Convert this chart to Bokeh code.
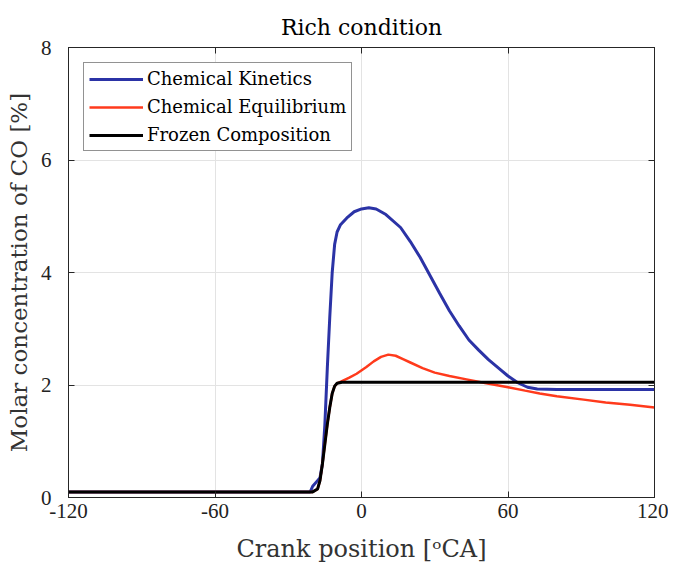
from bokeh.plotting import figure
from bokeh.models import LinearAxis, FixedTicker, Range1d, Legend, LegendItem
from bokeh.embed import file_html
from bokeh.resources import INLINE

title_text = "Rich condition"
x_label = "Crank position [\u1d52CA]"
y_label = "Molar concentration of CO [%]"
x_ticks = [-120, -60, 0, 60, 120]
x_tick_labels = ["-120", "-60", "0", "60", "120"]
y_ticks = [0, 2, 4, 6, 8]
y_tick_labels = ["0", "2", "4", "6", "8"]

kin_x = [-120, -21, -20, -18, -17, -16, -15, -14, -13, -12, -11, -10, -8.6, -6, -3, 0, 3, 6, 10, 16, 20, 24, 28, 32, 36, 40, 44, 48, 52, 57, 60, 64, 68, 72, 80, 120]
kin_y = [0.1, 0.1, 0.2, 0.3, 0.35, 0.6, 1.3, 2.3, 3.2, 4.0, 4.5, 4.72, 4.85, 4.97, 5.08, 5.13, 5.15, 5.13, 5.03, 4.8, 4.55, 4.27, 3.95, 3.63, 3.32, 3.05, 2.8, 2.62, 2.45, 2.27, 2.16, 2.04, 1.96, 1.93, 1.92, 1.92]

eq_x = [-120, -20, -18, -17, -16, -15, -14, -13, -12, -11, -10, -8, -5, -2, 2, 5, 8, 11, 14, 17, 20, 25, 30, 36, 43, 50, 60, 67, 73, 80, 91, 100, 110, 120]
eq_y = [0.1, 0.1, 0.15, 0.3, 0.6, 0.95, 1.3, 1.6, 1.85, 1.98, 2.03, 2.07, 2.13, 2.2, 2.32, 2.42, 2.5, 2.54, 2.52, 2.46, 2.4, 2.3, 2.22, 2.16, 2.1, 2.04, 1.96, 1.9, 1.85, 1.8, 1.74, 1.69, 1.65, 1.6]

fr_x = [-120, -20, -18, -17, -16, -15, -14, -13, -12, -11, -10, -8, 120]
fr_y = [0.1, 0.1, 0.15, 0.3, 0.6, 0.95, 1.3, 1.6, 1.85, 1.98, 2.03, 2.05, 2.05]

TFONT = "DejaVu Serif"
NFONT = "Liberation Serif"
AX = "#262626"

p = figure(width=668, height=569, output_backend="svg", toolbar_location=None,
           x_range=Range1d(-120, 120), y_range=Range1d(0, 8),
           min_border_left=68, min_border_right=14, min_border_top=47, min_border_bottom=72)
p.title.text = title_text
p.title.align = "center"
p.title.text_font = TFONT
p.title.text_font_size = "22px"
p.title.text_font_style = "normal"
p.title.text_color = "black"
p.title.offset = 0
p.title.standoff = 16

p.outline_line_color = AX
p.outline_line_width = 1
p.grid.grid_line_color = "#e3e3e3"
p.xgrid.ticker = FixedTicker(ticks=x_ticks)
p.ygrid.ticker = FixedTicker(ticks=y_ticks)

for ax, ticks, labs, lab in ((p.xaxis[0], x_ticks, x_tick_labels, x_label),
                             (p.yaxis[0], y_ticks, y_tick_labels, y_label)):
    ax.ticker = FixedTicker(ticks=ticks)
    ax.major_label_overrides = {t: s for t, s in zip(ticks, labs)}
    ax.axis_label = lab
    ax.axis_label_text_font = TFONT
    ax.axis_label_text_font_style = "normal"
    ax.axis_label_text_color = "#333333"
    ax.major_label_text_font = NFONT
    ax.major_label_text_font_size = "21px"
    ax.major_label_text_color = "#222222"
    ax.major_tick_in = 6
    ax.major_tick_out = 0
    ax.minor_tick_line_color = None
    ax.axis_line_color = AX
    ax.major_tick_line_color = AX
p.xaxis[0].axis_label_text_font_size = "24px"
p.yaxis[0].axis_label_text_font_size = "23px"
p.xaxis[0].major_label_standoff = 6
p.yaxis[0].major_label_standoff = 17
p.xaxis[0].axis_label_standoff = 14
p.yaxis[0].axis_label_standoff = 6

for loc, ticks in (("above", x_ticks), ("right", y_ticks)):
    a = LinearAxis(ticker=FixedTicker(ticks=ticks),
                   major_label_overrides={t: "" for t in ticks},
                   major_label_standoff=0, major_tick_in=6, major_tick_out=0,
                   minor_tick_line_color=None, axis_line_color=AX, major_tick_line_color=AX)
    p.add_layout(a, loc)

r1 = p.line(kin_x, kin_y, line_color="#2b33a6", line_width=3)
r2 = p.line(eq_x, eq_y, line_color="#ff3a1c", line_width=2.5)
r3 = p.line(fr_x, fr_y, line_color="black", line_width=3)

legend = Legend(items=[LegendItem(label="Chemical Kinetics", renderers=[r1]),
                       LegendItem(label="Chemical Equilibrium", renderers=[r2]),
                       LegendItem(label="Frozen Composition", renderers=[r3])],
                location="top_left", margin=15, padding=5, spacing=7,
                glyph_width=54, glyph_height=20, label_height=20, label_standoff=4,
                label_text_font=TFONT, label_text_font_size="18px", label_text_color="black",
                border_line_color=AX, border_line_width=1, background_fill_alpha=1)
p.add_layout(legend)

open("out.html", "w").write(file_html(p, INLINE))
